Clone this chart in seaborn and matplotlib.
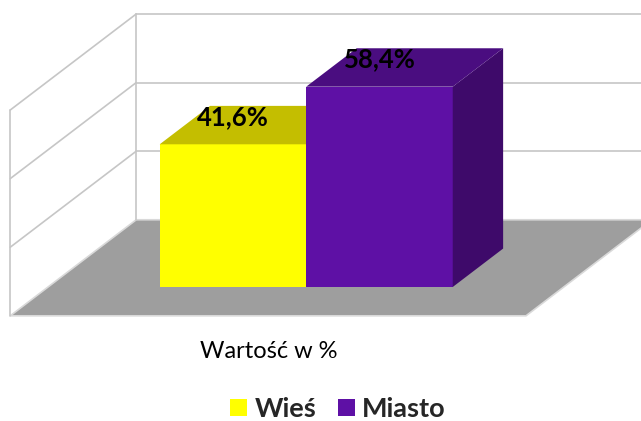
"""
3D-style bar chart (Wieś / Miasto) drawn with seaborn + matplotlib patches.
"""
import matplotlib
matplotlib.use("Agg")
import matplotlib.pyplot as plt
from matplotlib.patches import Polygon, Patch
import pandas as pd
import seaborn as sns

# ---- data ----
categories = ["Wieś", "Miasto"]
values = [41.6, 58.4]
value_labels = ["41,6%", "58,4%"]
grid_values = [0, 20, 40, 60]
axis_title = "Wartość w %"

front_colors = ["#FFFF00", "#5E10A5"]
top_colors = ["#C4BE00", "#4A0D80"]
side_colors = ["#A8A300", "#3E0A6A"]

# ---- style ----
sns.set_theme(style="white")
plt.rcParams["font.family"] = ["Lato", "DejaVu Sans"]

# oblique projection: depth d in [0, 1], bars occupy d in [0.3, 0.7]
DX, DY = 0.86, 28.0
BAR_D0, BAR_D1 = 0.3, 0.7
X_LEFT, X_RIGHT = -1.52, 2.0


def proj(x, v, d):
    return (x + d * DX, v + (d - BAR_D0) * DY)


fig = plt.figure(figsize=(6.41, 4.21), dpi=100)
ax = fig.add_axes([0, 0, 1, 1])

df = pd.DataFrame({"cat": categories, "val": values})
sns.barplot(data=df, x="cat", y="val", hue="cat", palette=front_colors,
            width=1.0, saturation=1, legend=False, ax=ax, zorder=5,
            linewidth=0)
bars = sorted(list(ax.patches), key=lambda p: p.get_x())

wall_color = "#C6C6C6"
top_v = grid_values[-1]

# floor
floor = Polygon([proj(X_LEFT, 0, 0), proj(X_RIGHT, 0, 0),
                 proj(X_RIGHT, 0, 1), proj(X_LEFT, 0, 1)],
                closed=True, facecolor="#9E9E9E", edgecolor="#D9D9D9",
                linewidth=1.2, zorder=1)
ax.add_patch(floor)

# walls: left side wall and back wall
for v in grid_values[1:]:
    (x0, y0), (x1, y1) = proj(X_LEFT, v, 0), proj(X_LEFT, v, 1)
    ax.plot([x0, x1], [y0, y1], color=wall_color, lw=1.2, zorder=2)
    (bx0, by0), (bx1, by1) = proj(X_LEFT, v, 1), proj(X_RIGHT, v, 1)
    ax.plot([bx0, bx1], [by0, by1], color=wall_color, lw=1.2, zorder=2)
for d in [0, 1]:
    (x0, y0), (x1, y1) = proj(X_LEFT, 0, d), proj(X_LEFT, top_v, d)
    ax.plot([x0, x1], [y0, y1], color=wall_color, lw=1.2, zorder=2)

# bar top and side faces
for i, bar in enumerate(bars):
    x0 = bar.get_x()
    x1 = x0 + bar.get_width()
    h = bar.get_height()
    depth = BAR_D1 - BAR_D0
    ox, oy = depth * DX, depth * DY
    z = 5 + 2 * i
    bar.set_zorder(z)
    top = Polygon([(x0, h), (x1, h), (x1 + ox, h + oy), (x0 + ox, h + oy)],
                  closed=True, facecolor=top_colors[i], edgecolor="none",
                  zorder=z)
    side = Polygon([(x1, 0), (x1 + ox, oy), (x1 + ox, h + oy), (x1, h)],
                   closed=True, facecolor=side_colors[i], edgecolor="none",
                   zorder=z)
    ax.add_patch(side)
    ax.add_patch(top)
    ax.text((x0 + x1) / 2, h + 8, value_labels[i], ha="center", va="center",
            fontsize=18.5, fontweight="bold", color="black", zorder=20)

ax.set_xlim(-1.590, 2.785)
ax.set_ylim(-39.07, 83.67)
ax.axis("off")

fig.text(200 / 641, 1 - 351 / 421, axis_title, ha="left", va="center",
         fontsize=17, color="black")

handles = [Patch(facecolor=c, edgecolor="none") for c in front_colors]
leg = fig.legend(handles, categories, loc="center", ncol=2,
                 bbox_to_anchor=(338 / 641, 1 - 409 / 421), frameon=False,
                 prop={"weight": "bold", "size": 19.5},
                 handlelength=0.63, handleheight=0.63, handletextpad=0.26,
                 columnspacing=0.8)

fig.savefig("out.png", dpi=100)
